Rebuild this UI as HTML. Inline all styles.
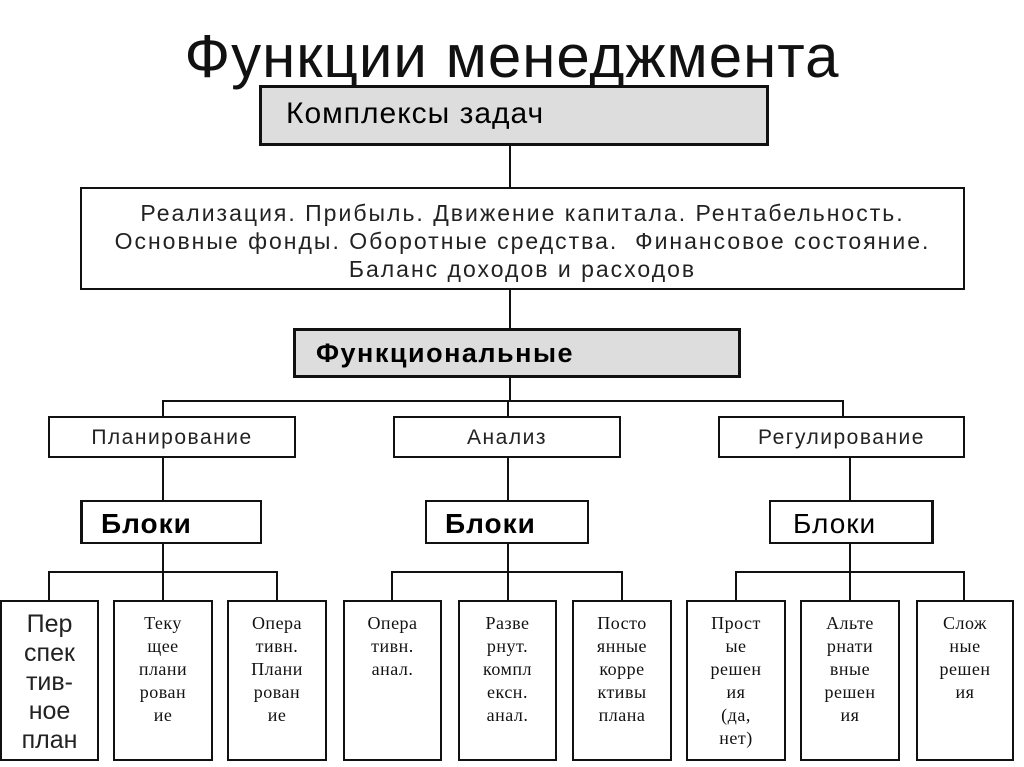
<!DOCTYPE html>
<html><head><meta charset="utf-8"><style>
body{margin:0;width:1024px;height:767px;background:#fff;position:relative;overflow:hidden;font-family:"Liberation Sans","DejaVu Sans",sans-serif}
.a{position:absolute;box-sizing:border-box;white-space:nowrap}
.b{border:2px solid #111;background:#fff}
.g{border:3px solid #111;background:#ddd}
.l{position:absolute;background:#111}
.s{font-family:"Liberation Serif",serif;font-size:18px;line-height:23px;text-align:center;padding-top:10px;color:#111;letter-spacing:0.5px}
.m{font-size:21px;letter-spacing:1.5px;text-align:center;padding-top:8px;color:#222}
.k{font-size:28px;padding:6px 0 0 18px;letter-spacing:1px}
</style></head><body>
<div class="a" style="left:0;top:20px;width:1024px;text-align:center;font-size:60px;line-height:74px;color:#111;letter-spacing:1px">Функции менеджмента</div>
<div class="a g" style="left:259px;top:85px;width:510px;height:61px;font-size:30px;letter-spacing:1px;padding:9px 0 0 24px">Комплексы задач</div>
<div class="l" style="left:509px;top:146px;width:2px;height:41px"></div>
<div class="a b" style="left:80px;top:187px;width:885px;height:103px;font-size:23px;letter-spacing:2px;line-height:28px;text-align:center;padding-top:10px;color:#222">Реализация. Прибыль. Движение капитала. Рентабельность.<br>Основные фонды. Оборотные средства.&nbsp; Финансовое состояние.<br>Баланс доходов и расходов</div>
<div class="l" style="left:509px;top:290px;width:2px;height:38px"></div>
<div class="a g" style="left:293px;top:328px;width:448px;height:50px;font-size:27px;letter-spacing:1.5px;font-weight:bold;padding:7px 0 0 20px">Функциональные</div>
<div class="l" style="left:509px;top:378px;width:2px;height:23px"></div>
<div class="l" style="left:162px;top:400px;width:682px;height:2px"></div>
<div class="l" style="left:162px;top:400px;width:2px;height:16px"></div>
<div class="l" style="left:507px;top:400px;width:2px;height:16px"></div>
<div class="l" style="left:842px;top:400px;width:2px;height:16px"></div>
<div class="a b m" style="left:48px;top:416px;width:248px;height:42px">Планирование</div>
<div class="a b m" style="left:393px;top:416px;width:228px;height:42px">Анализ</div>
<div class="a b m" style="left:718px;top:416px;width:247px;height:42px">Регулирование</div>
<div class="l" style="left:162px;top:458px;width:2px;height:42px"></div>
<div class="l" style="left:507px;top:458px;width:2px;height:42px"></div>
<div class="l" style="left:849px;top:458px;width:2px;height:42px"></div>
<div class="a b k" style="left:80px;top:500px;width:182px;height:44px;font-weight:bold;border-left-width:3px">Блоки</div>
<div class="a b k" style="left:425px;top:500px;width:164px;height:44px;font-weight:bold">Блоки</div>
<div class="a b k" style="left:769px;top:500px;width:165px;height:44px;border-right-width:3px;padding-left:22px">Блоки</div>
<div class="l" style="left:162px;top:544px;width:2px;height:28px"></div>
<div class="l" style="left:507px;top:544px;width:2px;height:28px"></div>
<div class="l" style="left:849px;top:544px;width:2px;height:28px"></div>
<div class="l" style="left:48px;top:571px;width:230px;height:2px"></div>
<div class="l" style="left:391px;top:571px;width:232px;height:2px"></div>
<div class="l" style="left:735px;top:571px;width:230px;height:2px"></div>
<div class="l" style="left:48px;top:571px;width:2px;height:29px"></div>
<div class="l" style="left:162px;top:571px;width:2px;height:29px"></div>
<div class="l" style="left:276px;top:571px;width:2px;height:29px"></div>
<div class="l" style="left:391px;top:571px;width:2px;height:29px"></div>
<div class="l" style="left:507px;top:571px;width:2px;height:29px"></div>
<div class="l" style="left:621px;top:571px;width:2px;height:29px"></div>
<div class="l" style="left:735px;top:571px;width:2px;height:29px"></div>
<div class="l" style="left:849px;top:571px;width:2px;height:29px"></div>
<div class="l" style="left:963px;top:571px;width:2px;height:29px"></div>
<div class="a b" style="left:0;top:600px;width:99px;height:161px;font-size:25px;line-height:29px;text-align:center;padding-top:8px;color:#222">Пер<br>спек<br>тив-<br>ное<br>план</div>
<div class="a b s" style="left:113px;top:600px;width:100px;height:161px">Теку<br>щее<br>плани<br>рован<br>ие</div>
<div class="a b s" style="left:227px;top:600px;width:100px;height:161px">Опера<br>тивн.<br>Плани<br>рован<br>ие</div>
<div class="a b s" style="left:343px;top:600px;width:99px;height:161px">Опера<br>тивн.<br>анал.</div>
<div class="a b s" style="left:458px;top:600px;width:99px;height:161px">Разве<br>рнут.<br>компл<br>ексн.<br>анал.</div>
<div class="a b s" style="left:572px;top:600px;width:100px;height:161px">Посто<br>янные<br>корре<br>ктивы<br>плана</div>
<div class="a b s" style="left:686px;top:600px;width:100px;height:161px">Прост<br>ые<br>решен<br>ия<br>(да,<br>нет)</div>
<div class="a b s" style="left:800px;top:600px;width:100px;height:161px">Альте<br>рнати<br>вные<br>решен<br>ия</div>
<div class="a b s" style="left:916px;top:600px;width:98px;height:161px">Слож<br>ные<br>решен<br>ия</div>
</body></html>
